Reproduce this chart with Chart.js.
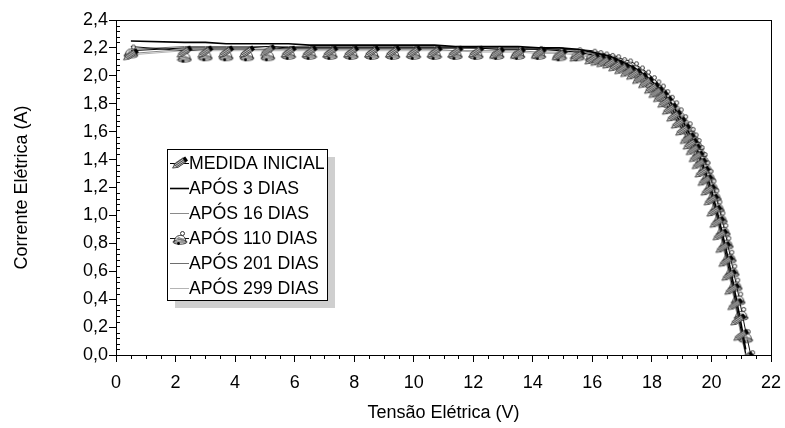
<!DOCTYPE html>
<html>
<head>
<meta charset="utf-8">
<script src="https://cdn.jsdelivr.net/npm/chart.js@4.4.0/dist/chart.umd.min.js"></script>
<style>body{margin:0;background:#fff}</style>
</head>
<body>
<canvas id="grafico" width="785" height="428"></canvas>
<script>
// tensao (V) dos pontos medidos
var tensao = [0.5, 2.3, 3.0, 3.7, 4.4, 5.1, 5.8, 6.5, 7.2, 7.9, 8.6, 9.3, 10.0, 10.7, 11.4, 12.1, 12.8, 13.5, 14.2, 14.9,
  15.5, 16.0, 16.2, 16.4, 16.6, 16.8, 17.0, 17.2, 17.4, 17.6, 17.8, 18.0, 18.15, 18.3, 18.45, 18.6, 18.75, 18.9, 19.05, 19.2,
  19.3, 19.4, 19.5, 19.6, 19.7, 19.8, 19.9, 20.0, 20.1, 20.2, 20.3, 20.4, 20.5, 20.6, 20.7, 20.8, 20.9, 21.0, 21.15, 21.3];

// corrente (A) de cada medida
var medidaInicial = [2.18, 2.20, 2.20, 2.20, 2.20, 2.21, 2.20, 2.20, 2.20, 2.20, 2.20, 2.20, 2.20, 2.20, 2.20, 2.20, 2.19, 2.19, 2.19, 2.18,
  2.17, 2.15, 2.14, 2.13, 2.12, 2.10, 2.08, 2.06, 2.04, 2.01, 1.98, 1.94, 1.91, 1.88, 1.84, 1.79, 1.74, 1.69, 1.64, 1.58,
  1.54, 1.50, 1.45, 1.40, 1.34, 1.28, 1.21, 1.14, 1.06, 0.98, 0.89, 0.80, 0.70, 0.60, 0.50, 0.39, 0.28, 0.17, 0.01, null];
var apos3 = [2.25, 2.24, 2.24, 2.23, 2.23, 2.23, 2.23, 2.22, 2.22, 2.22, 2.22, 2.22, 2.22, 2.22, 2.21, 2.21, 2.21, 2.21, 2.20, 2.20,
  2.19, 2.17, 2.16, 2.15, 2.14, 2.12, 2.10, 2.08, 2.06, 2.03, 2.00, 1.96, 1.93, 1.90, 1.86, 1.82, 1.77, 1.72, 1.67, 1.61,
  1.57, 1.53, 1.48, 1.43, 1.37, 1.31, 1.25, 1.18, 1.10, 1.02, 0.93, 0.84, 0.75, 0.65, 0.55, 0.44, 0.33, 0.22, 0.04, null];
var apos16 = [2.16, 2.19, 2.19, 2.19, 2.19, 2.19, 2.19, 2.19, 2.19, 2.19, 2.19, 2.19, 2.19, 2.19, 2.18, 2.18, 2.18, 2.18, 2.17, 2.17,
  2.16, 2.14, 2.13, 2.12, 2.11, 2.09, 2.07, 2.05, 2.03, 2.00, 1.97, 1.93, 1.90, 1.86, 1.82, 1.77, 1.72, 1.67, 1.62, 1.56,
  1.52, 1.47, 1.42, 1.37, 1.31, 1.25, 1.18, 1.11, 1.03, 0.95, 0.86, 0.77, 0.67, 0.57, 0.47, 0.36, 0.25, 0.14, 0.00, null];
var apos110 = [2.21, 2.18, 2.19, 2.19, 2.19, 2.19, 2.20, 2.20, 2.20, 2.20, 2.20, 2.20, 2.20, 2.20, 2.20, 2.20, 2.20, 2.20, 2.20, 2.19,
  2.19, 2.18, 2.17, 2.16, 2.15, 2.14, 2.12, 2.11, 2.09, 2.06, 2.03, 1.99, 1.96, 1.93, 1.89, 1.85, 1.81, 1.76, 1.71, 1.66,
  1.62, 1.58, 1.54, 1.49, 1.44, 1.38, 1.32, 1.25, 1.18, 1.10, 1.02, 0.93, 0.84, 0.74, 0.64, 0.54, 0.44, 0.33, 0.17, 0.02];
var apos201 = [2.19, 2.21, 2.21, 2.21, 2.21, 2.21, 2.21, 2.21, 2.21, 2.21, 2.21, 2.21, 2.21, 2.21, 2.21, 2.20, 2.20, 2.20, 2.19, 2.19,
  2.18, 2.16, 2.15, 2.14, 2.13, 2.11, 2.09, 2.07, 2.05, 2.02, 1.99, 1.95, 1.92, 1.89, 1.85, 1.80, 1.76, 1.71, 1.66, 1.60,
  1.56, 1.52, 1.47, 1.42, 1.36, 1.30, 1.23, 1.16, 1.08, 1.00, 0.91, 0.82, 0.72, 0.62, 0.52, 0.41, 0.30, 0.19, 0.02, null];
var apos299 = [2.15, 2.18, 2.18, 2.18, 2.18, 2.18, 2.18, 2.18, 2.18, 2.18, 2.18, 2.18, 2.18, 2.18, 2.18, 2.17, 2.17, 2.17, 2.16, 2.16,
  2.15, 2.13, 2.12, 2.11, 2.10, 2.08, 2.06, 2.04, 2.02, 1.99, 1.96, 1.92, 1.89, 1.85, 1.81, 1.76, 1.71, 1.66, 1.61, 1.55,
  1.51, 1.46, 1.41, 1.36, 1.30, 1.24, 1.17, 1.10, 1.02, 0.94, 0.85, 0.76, 0.66, 0.56, 0.46, 0.35, 0.24, 0.13, 0.00, null];

var rotulos = ['MEDIDA INICIAL', 'APÓS 3 DIAS', 'APÓS 16 DIAS', 'APÓS 110 DIAS', 'APÓS 201 DIAS', 'APÓS 299 DIAS'];
var ticksX = [0, 2, 4, 6, 8, 10, 12, 14, 16, 18, 20, 22];
var ticksY = [0, 0.2, 0.4, 0.6, 0.8, 1.0, 1.2, 1.4, 1.6, 1.8, 2.0, 2.2, 2.4];

var fonte = '"Liberation Sans", Arial, sans-serif';

// marcador lapis (desenhado abaixo do ponto)
var lapis = document.createElement('canvas');
lapis.width = 18; lapis.height = 24;
(function () {
  var c = lapis.getContext('2d');
  c.translate(9, 16);
  c.rotate(-0.6);
  c.fillStyle = '#c4c4c4';
  c.strokeStyle = '#3a3a3a';
  c.lineWidth = 0.8;
  c.beginPath();
  c.moveTo(-4, -2.5); c.lineTo(5, -2.5); c.lineTo(5, 2.5); c.lineTo(-4, 2.5); c.lineTo(-9, 0); c.closePath();
  c.fill(); c.stroke();
  c.beginPath();
  for (var k = -6; k < 5; k += 1.8) { c.moveTo(k, -2.5); c.lineTo(k + 2, 2.5); }
  c.stroke();
  c.fillStyle = '#000';
  c.fillRect(5, -2.5, 3, 5);
})();

// marcador sino (argola junto ao ponto)
var sino = document.createElement('canvas');
sino.width = 16; sino.height = 26;
(function () {
  var c = sino.getContext('2d');
  c.strokeStyle = '#222';
  c.lineWidth = 0.9;
  c.fillStyle = 'rgba(255,255,255,0.75)';
  c.beginPath(); c.arc(10.5, 13.5, 2, 0, Math.PI * 2); c.fill(); c.stroke();
  c.beginPath();
  c.moveTo(2, 22);
  c.bezierCurveTo(3, 17, 5, 15.5, 8.5, 15.5);
  c.bezierCurveTo(12, 15.5, 13, 17, 14, 22);
  c.closePath(); c.fill(); c.stroke();
  c.beginPath(); c.ellipse(8, 22, 7, 2.2, 0, 0, Math.PI * 2); c.stroke();
  c.strokeStyle = '#777';
  c.beginPath(); c.moveTo(5, 18); c.lineTo(11, 21); c.moveTo(6, 17); c.lineTo(12, 20); c.stroke();
  c.fillStyle = '#000';
  c.beginPath(); c.arc(6.5, 23.5, 1.4, 0, Math.PI * 2); c.fill();
})();

function pontos(correntes) {
  return tensao.map(function (v, i) { return { x: v, y: correntes[i] }; });
}

function virgula(v) { return v.toFixed(1).replace('.', ','); }

var moldura = {
  id: 'moldura',
  afterDraw: function (chart) {
    var c = chart.ctx, a = chart.chartArea;
    var sx = chart.scales.x, sy = chart.scales.y;
    c.save();
    c.strokeStyle = '#000';
    c.lineWidth = 1;
    c.strokeRect(a.left + 0.5, a.top + 0.5, a.right - a.left, a.bottom - a.top);
    c.beginPath();
    for (var i = 1; i < 44; i++) {
      if (i % 4 === 0) continue;
      var px = Math.round(sx.getPixelForValue(i * 0.5)) + 0.5;
      c.moveTo(px, a.bottom); c.lineTo(px, a.bottom + 4);
    }
    for (var j = 1; j < 60; j++) {
      if (j % 5 === 0) continue;
      var py = Math.round(sy.getPixelForValue(j * 0.04)) + 0.5;
      c.moveTo(a.left, py); c.lineTo(a.left + 4, py);
    }
    c.stroke();

    // legenda
    var L = 167, T = 149, W = 160, H = 151;
    c.fillStyle = '#cfcfcf';
    c.fillRect(L + 8, T + 8, W, H);
    c.fillStyle = '#fff';
    c.fillRect(L, T, W, H);
    c.strokeStyle = '#000';
    c.strokeRect(L + 0.5, T + 0.5, W, H);
    c.font = '17.7px ' + fonte;
    c.textBaseline = 'middle';
    chart.data.datasets.forEach(function (ds, i) {
      var y = T + 14 + i * 25;
      c.strokeStyle = ds.borderColor;
      c.lineWidth = ds.borderWidth;
      c.beginPath(); c.moveTo(170, y + 0.5); c.lineTo(189, y + 0.5); c.stroke();
      if (ds.pointRadius > 0) {
        var img = ds.pointStyle;
        var dy = img === lapis ? 16 : 18;
        c.drawImage(img, 180 - img.width / 2, y - dy);
      }
      c.fillStyle = '#000';
      c.fillText(ds.label, 189, y + 1);
    });
    c.restore();
  }
};

var estilos = [
  { cor: '#000', larg: 1, marca: lapis },
  { cor: '#000', larg: 1.6, marca: null },
  { cor: '#8a8a8a', larg: 1, marca: null },
  { cor: '#111', larg: 1, marca: sino },
  { cor: '#6e6e6e', larg: 1, marca: null },
  { cor: '#b4b4b4', larg: 1, marca: null }
];
var series = [medidaInicial, apos3, apos16, apos110, apos201, apos299];

new Chart(document.getElementById('grafico'), {
  type: 'line',
  data: {
    datasets: series.map(function (s, i) {
      var e = estilos[i];
      return {
        label: rotulos[i],
        data: pontos(s),
        borderColor: e.cor,
        borderWidth: e.larg,
        pointStyle: e.marca || 'circle',
        pointRadius: e.marca ? 7 : 0,
        tension: 0,
        fill: false
      };
    })
  },
  options: {
    responsive: false,
    animation: false,
    devicePixelRatio: 1,
    layout: { padding: { top: 20, right: 14, left: 0, bottom: 0 } },
    plugins: { legend: { display: false }, tooltip: { enabled: false } },
    scales: {
      x: {
        type: 'linear', min: 0, max: 22,
        afterBuildTicks: function (s) { s.ticks = ticksX.map(function (v) { return { value: v }; }); },
        afterFit: function (s) { s.height = 73; s.paddingLeft = 0; s.paddingRight = 0; },
        grid: { drawOnChartArea: false, tickLength: 7, color: '#000' },
        border: { color: '#000' },
        ticks: { color: '#000', font: { size: 18, family: fonte }, padding: 10, maxRotation: 0 },
        title: { display: true, text: 'Tensão Elétrica (V)', color: '#000', font: { size: 18, family: fonte }, padding: { top: 0, bottom: 4 } }
      },
      y: {
        min: 0, max: 2.4,
        afterBuildTicks: function (s) { s.ticks = ticksY.map(function (v) { return { value: v }; }); },
        afterFit: function (s) { s.width = 116; s.paddingTop = 0; s.paddingBottom = 0; },
        grid: { drawOnChartArea: false, tickLength: 7, color: '#000' },
        border: { color: '#000' },
        ticks: { color: '#000', font: { size: 18, family: fonte }, padding: 1, callback: function (v) { return virgula(v); } },
        title: { display: true, text: 'Corrente Elétrica (A)', color: '#000', font: { size: 18, family: fonte }, padding: { top: 11, bottom: 0 } }
      }
    }
  },
  plugins: [moldura]
});
</script>
</body>
</html>
